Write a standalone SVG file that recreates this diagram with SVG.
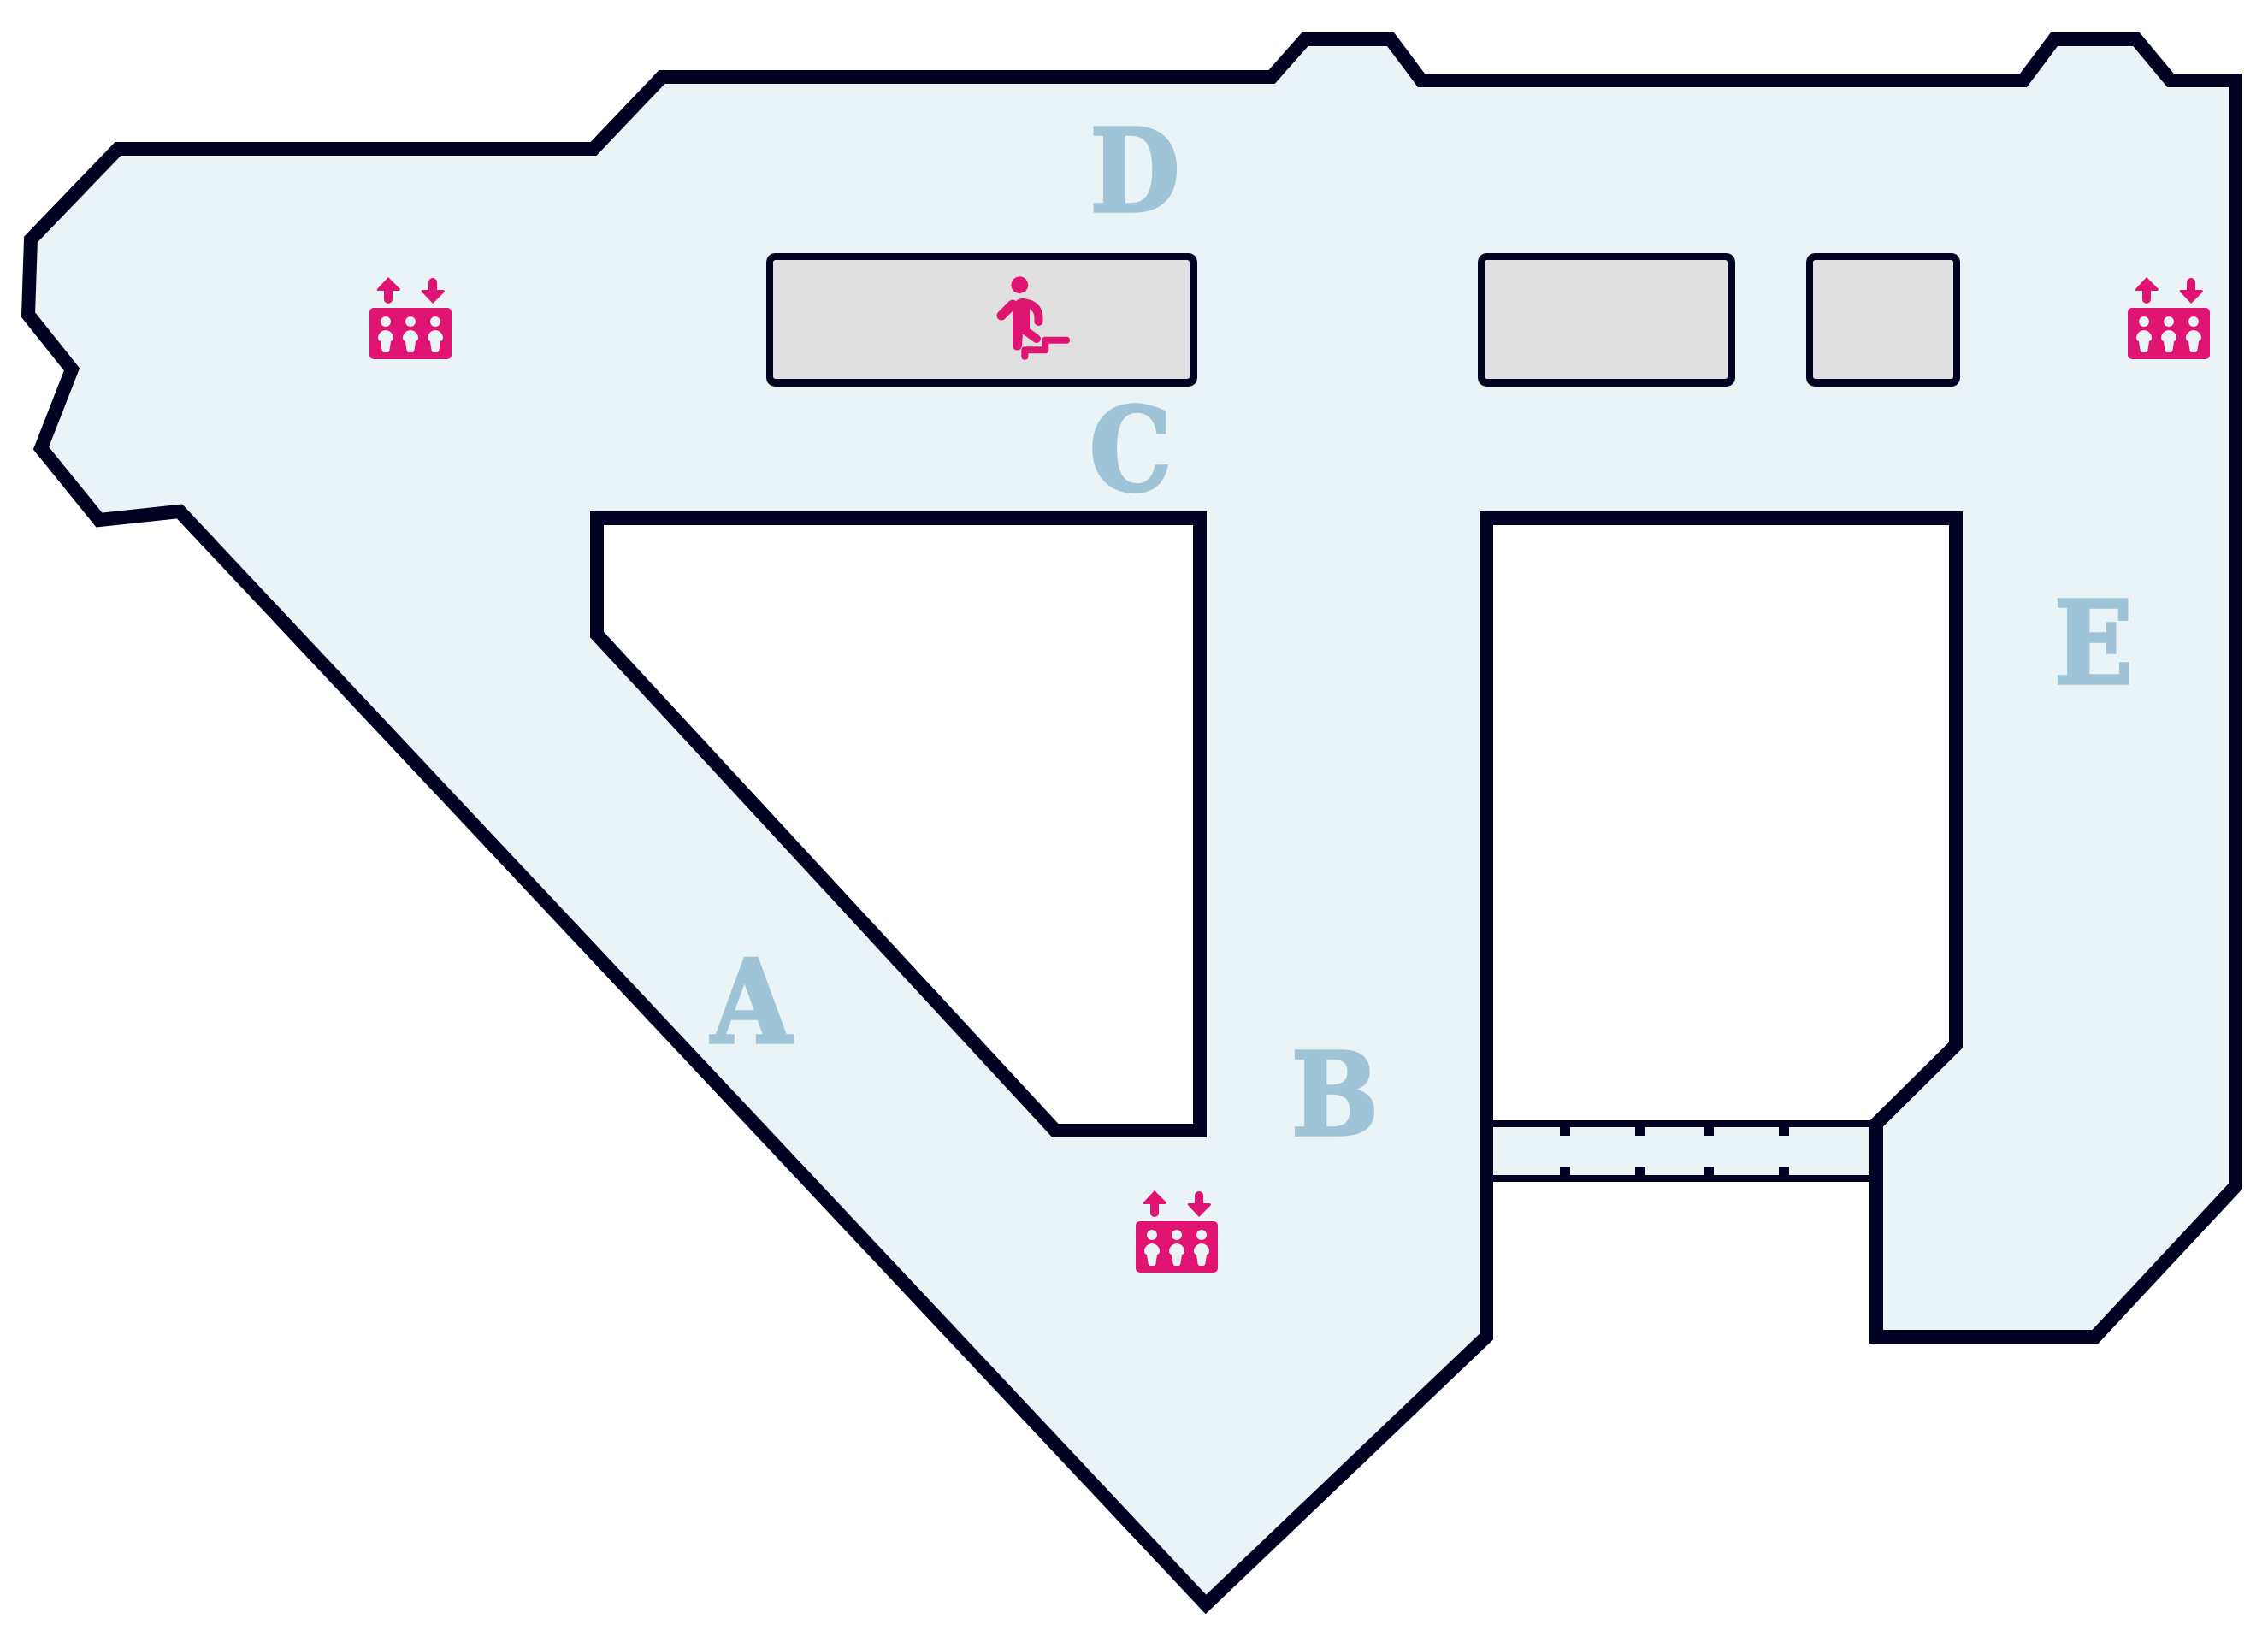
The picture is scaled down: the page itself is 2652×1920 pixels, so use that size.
<svg xmlns="http://www.w3.org/2000/svg" width="2652" height="1920" viewBox="0 0 2652 1920">
<style>
.floor{fill:#eaf3f6;fill-rule:evenodd}
.wall{fill:none;stroke:#000222;stroke-width:16;stroke-miterlimit:10}
.dark{fill:#000222}
.room{fill:#e0e0e0}
.pink{fill:#e01472}
.pinkl{fill:none;stroke:#e01472;stroke-linecap:round;stroke-linejoin:round}
.cut{fill:#eaf3f6}
.label{font-family:"DejaVu Serif Condensed","DejaVu Serif",serif;font-weight:700;font-size:134px;fill:#9fc4d8;stroke:#9fc4d8;stroke-width:3.500;stroke-linejoin:miter}
</style>
<defs>
<g id="lift">
<path class="pink" d="M454 324L468 338Q468 340 466 340L459 340L459 350A5 5 0 0 1 449 350L449 340L442 340Q440 340 441 338Z"/>
<path class="pink" d="M506 355L520 341Q520 339 518 339L511 339L511 330A5 5 0 0 0 501 330L501 339L494 339Q492 339 493 341Z"/>
<rect class="pink" x="432" y="360" width="96" height="60" rx="5"/>
<circle class="cut" cx="451" cy="376" r="6"/><circle class="cut" cx="480" cy="376" r="6"/><circle class="cut" cx="509" cy="376" r="6"/>
<path id="lift-body" class="cut" d="M451 386a9 9 0 0 1 9 9q0 3-3 4L455.500 409q-.3 3-2 3L448.500 412q-1.700 0-2-3L445 399q-3-1-3-4a9 9 0 0 1 9-9z"/>
<use href="#lift-body" x="29"/><use href="#lift-body" x="58"/>
</g>
</defs>
<g id="floor">
<path class="floor" d="M1738 1563L1410 1876L210 598L116 608L48 524L84 432L33 368L36 280L138 174L694 174L774 90L1487 90L1526 46L1626 46L1662 94L2366 94L2402 46L2498 46L2538 94L2614 94L2614 1387L2450 1563L2194 1563L2194 1378L1738 1378ZM698 606L1403 606L1403 1322L1234 1322L698 742ZM1738 606L2287 606L2287 1222L2194 1314L1738 1314Z"/>
</g>
<g id="walls">
<path class="wall" d="M1738 1563L1410 1876L210 598L116 608L48 524L84 432L33 368L36 280L138 174L694 174L774 90L1487 90L1526 46L1626 46L1662 94L2366 94L2402 46L2498 46L2538 94L2614 94L2614 1387L2450 1563L2194 1563L2194 1314L2287 1222L2287 606L1738 606Z"/>
<path class="wall" d="M698 606L1403 606L1403 1322L1234 1322L698 742Z"/>
</g>
<g id="corridor">
<rect class="dark" x="1746" y="1310" width="440" height="8"/>
<rect class="dark" x="1746" y="1374" width="440" height="8"/>
<rect class="dark" x="1824" y="1318" width="12" height="10"/><rect class="dark" x="1912" y="1318" width="12" height="10"/><rect class="dark" x="1992" y="1318" width="12" height="10"/><rect class="dark" x="2080" y="1318" width="12" height="10"/>
<rect class="dark" x="1824" y="1364" width="12" height="10"/><rect class="dark" x="1912" y="1364" width="12" height="10"/><rect class="dark" x="1992" y="1364" width="12" height="10"/><rect class="dark" x="2080" y="1364" width="12" height="10"/>
</g>
<g id="room-1">
<rect class="dark" x="896" y="296" width="504" height="156" rx="10"/>
<rect class="room" x="904" y="304" width="487" height="139" rx="3"/>
</g>
<g id="room-2">
<rect class="dark" x="1728" y="296" width="301" height="156" rx="10"/>
<rect class="room" x="1736" y="304" width="284" height="139" rx="3"/>
</g>
<g id="room-3">
<rect class="dark" x="2112" y="296" width="180" height="156" rx="10"/>
<rect class="room" x="2120" y="304" width="164" height="139" rx="3"/>
</g>
<g id="stairs-icon">
<circle class="pink" cx="1192.300" cy="333.300" r="10"/>
<path class="pink" d="M1184 358Q1188 349 1196 349L1204 352L1204 384L1196 390L1195 404A5.500 5.500 0 0 1 1184 404Z"/>
<path class="pinkl" stroke-width="11" d="M1171 369L1184 356"/>
<path class="pinkl" stroke-width="10" d="M1196 354Q1214.500 356 1214.500 372L1214.500 376"/>
<path class="pinkl" stroke-width="10" d="M1198 386L1212 396"/>
<path class="pinkl" stroke-width="8" d="M1247 397.700L1222.300 397.700L1222.300 409.300L1198.300 409.300L1198.300 416.700"/>
</g>
<g id="lift-1"><use href="#lift"/></g>
<g id="lift-2"><use href="#lift" x="896" y="1068"/></g>
<g id="lift-3"><use href="#lift" x="2056"/></g>
<g id="labels">
<text class="label" x="878.500" y="1219" text-anchor="middle">A</text>
<text class="label" x="1561" y="1327" text-anchor="middle">B</text>
<text class="label" x="1322" y="573" text-anchor="middle">C</text>
<text class="label" x="1327" y="247" text-anchor="middle">D</text>
<text class="label" x="2448" y="799" text-anchor="middle">E</text>
</g>
</svg>
